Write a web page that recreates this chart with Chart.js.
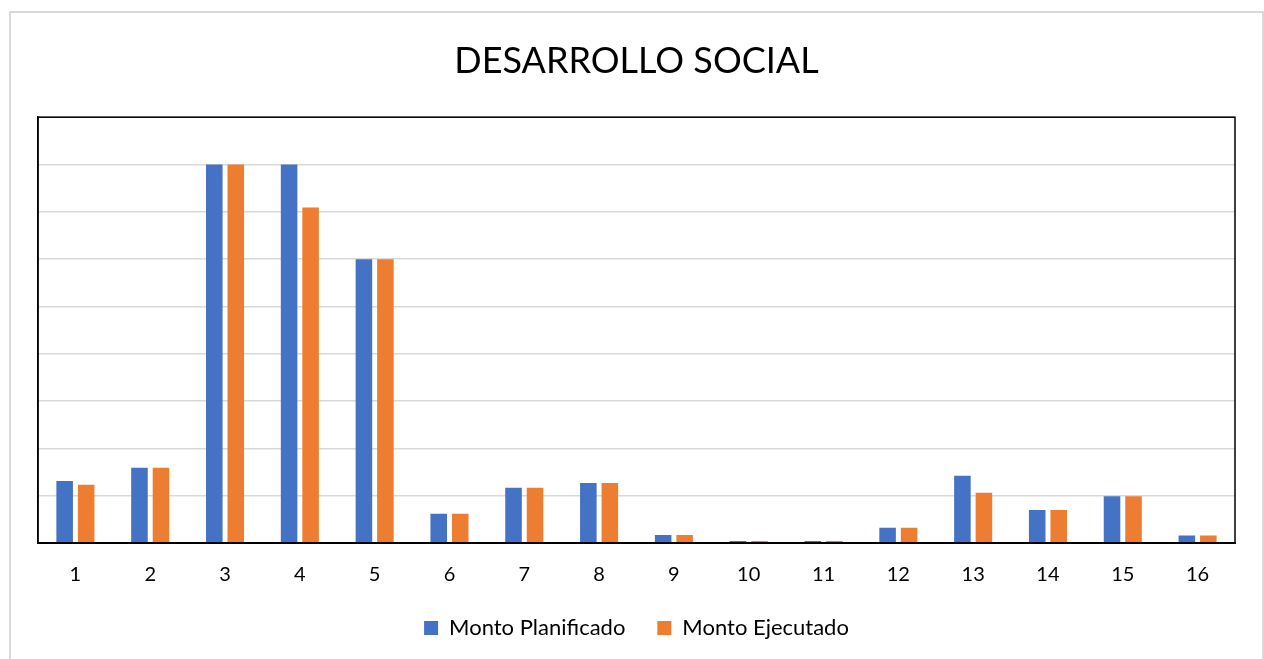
<!DOCTYPE html>
<html>
<head>
<meta charset="utf-8">
<script src="https://cdn.jsdelivr.net/npm/chart.js@4"></script>
<style>
  body { margin: 0; background: #fff; }
  #wrap { position: relative; width: 1264px; height: 659px; }
</style>
</head>
<body>
<div id="wrap"><canvas id="grafico" width="1264" height="659"></canvas></div>
<script>
// datos del gráfico
var categorias = ["1", "2", "3", "4", "5", "6", "7", "8", "9", "10", "11", "12", "13", "14", "15", "16"];
var montoPlanificado = [1.31, 1.59, 8.0, 8.0, 6.0, 0.62, 1.17, 1.27, 0.17, 0.04, 0.04, 0.32, 1.42, 0.70, 0.99, 0.16];
var montoEjecutado = [1.23, 1.59, 8.0, 7.09, 6.0, 0.62, 1.17, 1.27, 0.17, 0.04, 0.04, 0.32, 1.06, 0.70, 0.99, 0.16];

var fuente = "Lato, 'Noto Sans', sans-serif";

// marco exterior y borde del área de trazado
const marcos = {
    id: "marcos",
    beforeDraw: function (chart) {
        const c = chart.ctx;
        c.save();
        c.fillStyle = "#fff";
        c.fillRect(0, 0, chart.width, chart.height);
        c.strokeStyle = "#d9d9d9";
        c.lineWidth = 2;
        c.strokeRect(10, 12, 1253, 700);
        c.restore();
    },
    afterDatasetsDraw: function (chart) {
        const a = chart.chartArea;
        const c = chart.ctx;
        c.save();
        c.strokeStyle = "#000";
        c.lineWidth = 1.5;
        c.strokeRect(a.left, a.top, a.right - a.left, a.bottom - a.top);
        c.restore();
    }
};

const ctx = document.getElementById("grafico");

new Chart(ctx, {
    type: "bar",
    data: {
        labels: categorias,
        datasets: [{
            label: "Monto Planificado",
            data: montoPlanificado,
            backgroundColor: "#4472C4",
            barPercentage: 0.77,
            categoryPercentage: 0.575
        }, {
            label: "Monto Ejecutado",
            data: montoEjecutado,
            backgroundColor: "#ED7D31",
            barPercentage: 0.77,
            categoryPercentage: 0.575
        }]
    },
    options: {
        responsive: false,
        animation: false,
        layout: {
            padding: { top: 12, left: 38, right: 29, bottom: 10 }
        },
        plugins: {
            title: {
                display: true,
                text: "DESARROLLO SOCIAL",
                color: "#000",
                font: { family: fuente, size: 36, weight: "normal" },
                padding: { top: 28, bottom: 34 }
            },
            legend: {
                position: "bottom",
                labels: {
                    color: "#000",
                    font: { family: fuente, size: 22 },
                    boxWidth: 14,
                    boxHeight: 14,
                    padding: 32
                }
            },
            tooltip: { enabled: false }
        },
        scales: {
            x: {
                grid: { display: false, drawTicks: false },
                border: { display: true, color: "#000", width: 2 },
                ticks: { color: "#000", font: { family: fuente, size: 20 }, padding: 20 },
                afterFit: function (escala) {
                    escala.height = 42;
                }
            },
            y: {
                min: 0,
                max: 9,
                ticks: { display: false, stepSize: 1 },
                grid: { color: "#d9d9d9", lineWidth: 1.5, drawTicks: false },
                border: { display: true, color: "#000", width: 1.5 }
            }
        }
    },
    plugins: [marcos]
});
</script>
</body>
</html>
